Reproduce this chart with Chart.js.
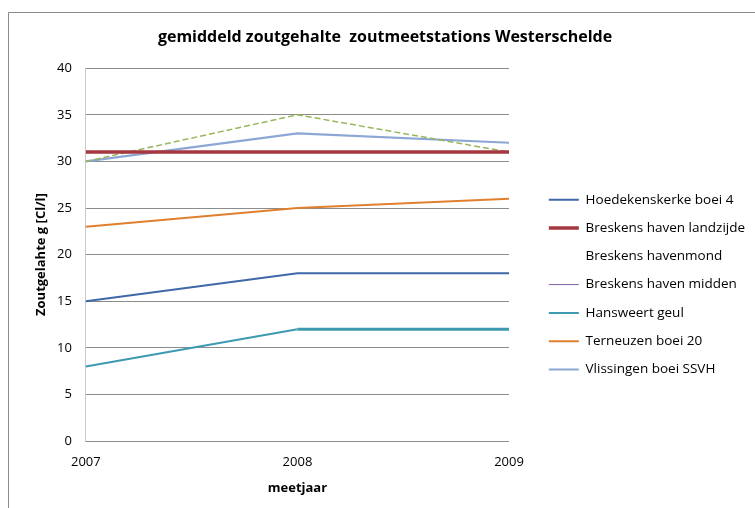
<!DOCTYPE html>
<html>
<head>
<meta charset="utf-8">
<script src="https://cdn.jsdelivr.net/npm/chart.js@4.4.1/dist/chart.umd.min.js"></script>
<style>
  body { margin: 0; background: #fff; }
  canvas { display: block; }
</style>
</head>
<body>
<canvas id="chart" width="755" height="508"></canvas>
<script>
// Data
const years = ['2007', '2008', '2009'];
const hoedekenskerke = [15, 18, 18];
const breskensLandzijde = [31, 31, 31];
const breskensHavenmond = [30, 35, 31];
const breskensMidden = [null, null, null];
const hansweert = [8, 12, 12];
const terneuzen = [23, 25, 26];
const vlissingen = [30, 33, 32];
const yTicks = [0, 5, 10, 15, 20, 25, 30, 35, 40];

const FONT = '"Open Sans", Lato, sans-serif';

// frame around the whole chart (like the excel chart border)
const framePlugin = {
    id: 'frame',
    beforeDraw(chart) {
        const ctx = chart.ctx;
        ctx.save();
        ctx.fillStyle = '#fff';
        ctx.fillRect(0, 0, chart.width, chart.height);
        ctx.strokeStyle = '#8a8a8a';
        ctx.lineWidth = 1;
        ctx.beginPath();
        ctx.moveTo(8.5, chart.height);
        ctx.lineTo(8.5, 12.5);
        ctx.lineTo(chart.width, 12.5);
        ctx.stroke();
        ctx.restore();
    }
};

// move legend away from the plot and center the title like in excel
const placeBoxes = {
    id: 'placeBoxes',
    afterLayout(chart) {
        const lg = chart.legend;
        lg.left = chart.chartArea.right + 25;
        lg.right = chart.width;
        lg.width = lg.right - lg.left;
        const tb = chart.titleBlock;
        const half = (tb.right - tb.left) / 2;
        tb.left = 385 - half;
        tb.right = 385 + half;
    }
};

function line(label, data, color, width, extra) {
    return Object.assign({
        label: label,
        data: data,
        borderColor: color,
        backgroundColor: color,
        borderWidth: width,
        pointRadius: 0,
        tension: 0,
        fill: false
    }, extra || {});
}

const datasets = [
    line('Hoedekenskerke boei 4', hoedekenskerke, '#3e68a8', 2),
    line('Breskens haven landzijde', breskensLandzijde, '#a4373f', 3.5),
    line('Breskens havenmond', breskensHavenmond, '#98b65a', 1.5, { borderDash: [6, 3], hideBox: true }),
    line('Breskens haven midden', breskensMidden, '#7e63a2', 1),
    line('Hansweert geul', hansweert, '#3e9ab0', 2, {
        segment: { borderWidth: ctx => ctx.p0DataIndex >= 1 ? 3 : 2 }
    }),
    line('Terneuzen boei 20', terneuzen, '#e0802f', 2),
    line('Vlissingen boei SSVH', vlissingen, '#8ca7d4', 2.2)
];

new Chart(document.getElementById('chart'), {
    type: 'line',
    data: { labels: years, datasets: datasets },
    plugins: [framePlugin, placeBoxes],
    options: {
        responsive: false,
        animation: false,
        layout: { padding: { left: 33, right: 87.3, top: 14, bottom: 12.2 } },
        plugins: {
            title: {
                display: true,
                text: 'gemiddeld zoutgehalte  zoutmeetstations Westerschelde',
                color: '#000',
                font: { family: FONT, size: 16, weight: 'bold' },
                padding: { top: 14, bottom: 21 }
            },
            legend: {
                position: 'right',
                align: 'center',
                title: { display: true, text: ' ', padding: 22.5 },
                labels: {
                    color: '#000',
                    font: { family: FONT, size: 13.5 },
                    usePointStyle: true,
                    pointStyle: 'line',
                    pointStyleWidth: 30,
                    padding: 14.8,
                    generateLabels(chart) {
                        const items = Chart.defaults.plugins.legend.labels.generateLabels(chart);
                        items.forEach(item => {
                            const ds = chart.data.datasets[item.datasetIndex];
                            item.lineDash = [];
                            if (ds.hideBox) {
                                item.strokeStyle = 'rgba(0,0,0,0)';
                            }
                        });
                        return items;
                    }
                }
            },
            tooltip: { enabled: false }
        },
        scales: {
            x: {
                offset: false,
                grid: { display: false, drawTicks: false },
                border: { display: false },
                ticks: { color: '#000', font: { family: FONT, size: 13 }, padding: 13, maxRotation: 0 },
                title: {
                    display: true,
                    text: 'meetjaar',
                    color: '#000',
                    font: { family: FONT, size: 13, weight: 'bold' },
                    padding: { top: -2.4, bottom: 0 }
                }
            },
            y: {
                min: 0,
                max: 40,
                afterBuildTicks(axis) {
                    axis.ticks = yTicks.map(v => ({ value: v }));
                },
                grid: { color: '#8c8c8c', lineWidth: 1, drawTicks: false },
                border: { color: '#c8c8c8', width: 1 },
                ticks: { color: '#000', font: { family: FONT, size: 13 }, padding: 14 },
                title: {
                    display: true,
                    text: 'Zoutgelahte g [Cl/l]',
                    color: '#000',
                    font: { family: FONT, size: 13, weight: 'bold' },
                    padding: { top: 0, bottom: -5.6 }
                }
            }
        }
    }
});
</script>
</body>
</html>
